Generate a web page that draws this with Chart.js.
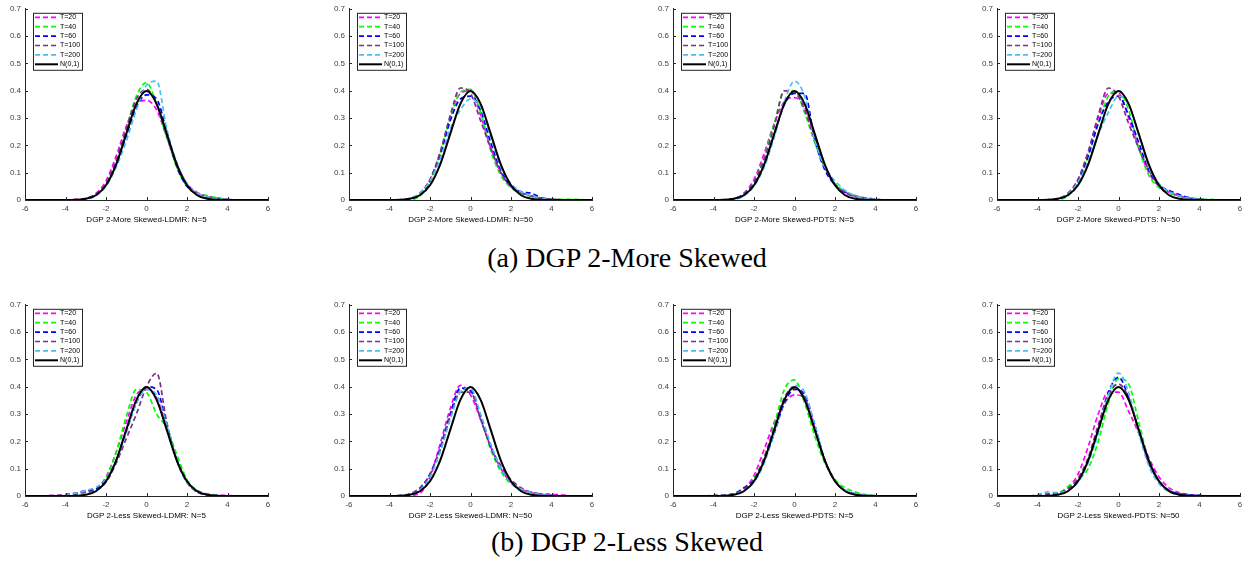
<!DOCTYPE html>
<html>
<head>
<meta charset="utf-8">
<script src="https://cdn.jsdelivr.net/npm/chart.js@4.4.0/dist/chart.umd.min.js"></script>
<style>
body{margin:0;width:1249px;height:569px;background:#fff;position:relative;overflow:hidden}
canvas{position:absolute}
.cap{position:absolute;width:600px;text-align:center;font-family:"Liberation Serif",serif;font-size:28px;color:#000;line-height:30px}
</style>
</head>
<body>
<div class="cap" id="capA" style="left:327px;top:243px"></div>
<div class="cap" id="capB" style="left:327px;top:527px"></div>
<script>
// grid of x values shared by every curve
var xs = [-6, -4.5, -4, -3.5, -3, -2.5, -2, -1.5, -1, -0.5, 0, 0.5, 1, 1.5, 2, 2.5, 3, 3.5, 4, 4.5, 5, 6];
var normal = [0, 0, 0.0001, 0.0009, 0.0044, 0.0175, 0.054, 0.1295, 0.242, 0.352, 0.399, 0.352, 0.242, 0.1295, 0.054, 0.0175, 0.0044, 0.0009, 0.0001, 0, 0, 0];

var seriesNames = ['T=20', 'T=40', 'T=60', 'T=100', 'T=200'];
var seriesColors = ['#ff00ff', '#00ff00', '#0000ff', '#7e2f8e', '#4dbeee'];

var captions = ['(a) DGP 2-More Skewed', '(b) DGP 2-Less Skewed'];
var panelTitles = [
    'DGP 2-More Skewed-LDMR: N=5', 'DGP 2-More Skewed-LDMR: N=50',
    'DGP 2-More Skewed-PDTS: N=5', 'DGP 2-More Skewed-PDTS: N=50',
    'DGP 2-Less Skewed-LDMR: N=5', 'DGP 2-Less Skewed-LDMR: N=50',
    'DGP 2-Less Skewed-PDTS: N=5', 'DGP 2-Less Skewed-PDTS: N=50'
];
var xTicks = [-6, -4, -2, 0, 2, 4, 6];
var yTicks = [0, 0.1, 0.2, 0.3, 0.4, 0.5, 0.6, 0.7];

// one row per T (20,40,60,100,200)
var moreLdmr5 = [
    [0,0,0,0.002,0.006,0.024,0.07,0.16,0.27,0.35,0.365,0.33,0.23,0.13,0.06,0.028,0.014,0.007,0.002,0,0,0],
    [0,0,0,0.001,0.004,0.02,0.06,0.14,0.26,0.38,0.43,0.35,0.23,0.12,0.05,0.025,0.016,0.008,0.002,0,0,0],
    [0,0,0,0,0.003,0.02,0.055,0.13,0.235,0.34,0.385,0.37,0.25,0.12,0.05,0.022,0.01,0.004,0.001,0,0,0],
    [0,0,0,0.001,0.004,0.02,0.06,0.145,0.26,0.37,0.405,0.35,0.235,0.125,0.055,0.024,0.012,0.006,0.002,0,0,0],
    [0,0,0,0,0.003,0.015,0.05,0.12,0.215,0.33,0.42,0.435,0.26,0.135,0.06,0.025,0.012,0.005,0.001,0,0,0]
];
var moreLdmr50 = [
    [0,0,0,0,0.003,0.02,0.075,0.17,0.3,0.39,0.4,0.31,0.19,0.1,0.05,0.028,0.015,0.007,0.003,0.001,0,0],
    [0,0,0,0,0.001,0.015,0.07,0.17,0.3,0.395,0.405,0.32,0.18,0.09,0.045,0.025,0.014,0.007,0.004,0.002,0.002,0],
    [0,0,0,0.001,0.005,0.02,0.07,0.165,0.29,0.37,0.38,0.33,0.21,0.11,0.05,0.03,0.025,0.008,0.002,0,0,0],
    [0,0,0,0.001,0.005,0.025,0.075,0.175,0.31,0.41,0.39,0.29,0.19,0.1,0.05,0.027,0.014,0.006,0.002,0,0,0],
    [0,0,0,0.001,0.006,0.025,0.07,0.15,0.26,0.33,0.37,0.34,0.23,0.12,0.06,0.03,0.015,0.006,0.002,0,0,0]
];
var morePdts5 = [
    [0,0,0,0.001,0.005,0.025,0.075,0.17,0.28,0.36,0.375,0.34,0.23,0.12,0.06,0.03,0.015,0.008,0.003,0,0,0],
    [0,0,0,0.001,0.004,0.02,0.065,0.155,0.28,0.4,0.4,0.32,0.21,0.12,0.06,0.03,0.017,0.007,0.002,0,0,0],
    [0,0,0,0,0.003,0.02,0.06,0.13,0.24,0.35,0.39,0.39,0.22,0.11,0.055,0.028,0.013,0.005,0.001,0,0,0],
    [0,0,0,0.001,0.004,0.02,0.065,0.15,0.27,0.4,0.395,0.33,0.22,0.12,0.055,0.026,0.013,0.006,0.002,0,0,0],
    [0,0,0,0,0.002,0.015,0.05,0.12,0.23,0.36,0.435,0.38,0.22,0.12,0.07,0.035,0.015,0.006,0.002,0,0,0]
];
var morePdts50 = [
    [0,0,0,0.001,0.004,0.022,0.075,0.175,0.3,0.39,0.39,0.3,0.19,0.1,0.05,0.028,0.015,0.007,0.003,0.001,0,0],
    [0,0,0,0,0.002,0.015,0.065,0.16,0.28,0.38,0.4,0.33,0.19,0.09,0.045,0.025,0.014,0.008,0.004,0.002,0.001,0],
    [0,0,0,0.001,0.004,0.02,0.07,0.16,0.28,0.36,0.38,0.31,0.21,0.11,0.055,0.035,0.02,0.008,0.002,0,0,0],
    [0,0,0,0.001,0.005,0.025,0.075,0.175,0.31,0.41,0.38,0.28,0.19,0.11,0.055,0.03,0.015,0.006,0.002,0,0,0],
    [0,0,0,0.001,0.005,0.022,0.065,0.14,0.24,0.32,0.38,0.35,0.24,0.12,0.06,0.03,0.015,0.006,0.002,0,0,0]
];
var lessLdmr5 = [
    [0,0.002,0.005,0.01,0.015,0.025,0.07,0.16,0.27,0.37,0.39,0.36,0.25,0.13,0.055,0.02,0.008,0.004,0.002,0,0,0],
    [0,0,0.002,0.006,0.012,0.025,0.065,0.16,0.29,0.39,0.38,0.3,0.25,0.15,0.06,0.02,0.006,0.002,0,0,0,0],
    [0,0,0.002,0.008,0.02,0.025,0.06,0.13,0.24,0.34,0.4,0.39,0.26,0.13,0.05,0.015,0.004,0.001,0,0,0,0],
    [0,0.002,0.005,0.01,0.015,0.02,0.05,0.12,0.21,0.3,0.4,0.45,0.27,0.13,0.05,0.015,0.004,0.001,0,0,0,0],
    [0,0,0.002,0.01,0.02,0.032,0.06,0.13,0.23,0.34,0.39,0.37,0.26,0.13,0.05,0.016,0.005,0.001,0,0,0,0]
];
var lessLdmr50 = [
    [0,0,0,0,0.002,0.01,0.07,0.19,0.32,0.405,0.37,0.28,0.18,0.1,0.05,0.025,0.012,0.008,0.006,0.004,0,0],
    [0,0,0,0.001,0.006,0.025,0.08,0.17,0.3,0.39,0.39,0.29,0.17,0.09,0.045,0.025,0.012,0.004,0.001,0,0,0],
    [0,0,0,0.001,0.006,0.025,0.08,0.175,0.3,0.395,0.385,0.29,0.18,0.1,0.05,0.025,0.015,0.006,0.002,0,0,0],
    [0,0,0,0.002,0.008,0.03,0.08,0.17,0.29,0.38,0.38,0.28,0.18,0.11,0.06,0.03,0.013,0.005,0.002,0,0,0],
    [0,0,0,0.001,0.005,0.022,0.07,0.16,0.28,0.38,0.395,0.3,0.19,0.1,0.05,0.026,0.013,0.005,0.002,0,0,0]
];
var lessPdts5 = [
    [0,0,0.002,0.004,0.008,0.025,0.075,0.17,0.27,0.34,0.37,0.36,0.25,0.13,0.055,0.02,0.008,0.003,0.001,0,0,0],
    [0,0,0.001,0.003,0.008,0.025,0.065,0.14,0.26,0.39,0.425,0.34,0.22,0.12,0.06,0.03,0.015,0.005,0.001,0,0,0],
    [0,0,0,0.002,0.008,0.03,0.06,0.13,0.23,0.34,0.39,0.37,0.26,0.13,0.055,0.02,0.007,0.002,0,0,0,0],
    [0,0,0.001,0.003,0.008,0.025,0.06,0.14,0.25,0.36,0.395,0.36,0.25,0.13,0.055,0.02,0.008,0.003,0.001,0,0,0],
    [0,0,0,0.002,0.006,0.02,0.05,0.12,0.23,0.35,0.405,0.38,0.26,0.13,0.055,0.022,0.01,0.003,0.001,0,0,0]
];
var lessPdts50 = [
    [0,0,0.002,0.006,0.012,0.03,0.08,0.18,0.3,0.38,0.38,0.31,0.23,0.14,0.07,0.03,0.012,0.005,0.002,0,0,0],
    [0,0,0,0.002,0.008,0.035,0.06,0.1,0.2,0.34,0.43,0.41,0.27,0.13,0.055,0.02,0.008,0.003,0.001,0,0,0],
    [0,0,0.002,0.006,0.01,0.025,0.06,0.13,0.25,0.38,0.435,0.36,0.24,0.12,0.055,0.02,0.008,0.004,0.002,0,0,0],
    [0,0,0.003,0.006,0.01,0.025,0.065,0.14,0.26,0.37,0.41,0.36,0.24,0.12,0.055,0.02,0.008,0.003,0.001,0,0,0],
    [0,0,0.005,0.015,0.012,0.02,0.05,0.12,0.23,0.37,0.45,0.38,0.23,0.11,0.045,0.015,0.005,0.002,0,0,0,0]
];

var panels = [moreLdmr5, moreLdmr50, morePdts5, morePdts50, lessLdmr5, lessLdmr50, lessPdts5, lessPdts50];

document.getElementById('capA').textContent = captions[0];
document.getElementById('capB').textContent = captions[1];

// MATLAB style ticks pointing into the axes
var innerTicks = {
    id: 'innerTicks',
    afterDraw: function(chart) {
        var ctx = chart.ctx;
        var a = chart.chartArea;
        var sx = chart.scales.x, sy = chart.scales.y;
        ctx.save();
        ctx.strokeStyle = '#262626';
        ctx.lineWidth = 1;
        ctx.beginPath();
        xTicks.forEach(function(v) {
            var p = Math.round(sx.getPixelForValue(v)) + 0.5;
            ctx.moveTo(p, a.bottom);
            ctx.lineTo(p, a.bottom - 3);
        });
        yTicks.forEach(function(v) {
            var p = Math.round(sy.getPixelForValue(v)) + 0.5;
            ctx.moveTo(a.left, p);
            ctx.lineTo(a.left + 3, p);
        });
        ctx.stroke();
        ctx.restore();
    }
};

// legend box inside the top-left corner of the axes
var boxLegend = {
    id: 'boxLegend',
    afterDraw: function(chart) {
        var ctx = chart.ctx;
        var a = chart.chartArea;
        var ds = chart.data.datasets;
        var bx = a.left + 8, by = a.top + 4, bw = 49, bh = 57;
        ctx.save();
        ctx.fillStyle = '#fff';
        ctx.fillRect(bx, by, bw, bh);
        ctx.strokeStyle = '#262626';
        ctx.lineWidth = 1;
        ctx.strokeRect(bx + 0.5, by + 0.5, bw, bh);
        ctx.font = '7px "Liberation Sans", Arial, sans-serif';
        ctx.textBaseline = 'middle';
        for (var i = 0; i < ds.length; i++) {
            var yy = by + 4.5 + i * 9.4;
            ctx.beginPath();
            ctx.strokeStyle = ds[i].borderColor;
            ctx.lineWidth = ds[i].borderWidth;
            ctx.setLineDash(ds[i].borderDash || []);
            ctx.moveTo(bx + 2, yy);
            ctx.lineTo(bx + 25, yy);
            ctx.stroke();
            ctx.setLineDash([]);
            ctx.fillStyle = '#000';
            ctx.fillText(ds[i].label, bx + 27, yy);
        }
        ctx.restore();
    }
};

function pairs(ys) {
    var out = [];
    for (var i = 0; i < xs.length; i++) out.push({ x: xs[i], y: ys[i] });
    return out;
}

function dibujarPanel(idx) {
    var col = idx % 4, row = Math.floor(idx / 4);
    var plotLeft = 25 + 324 * col;
    var plotTop = row === 0 ? 8 : 304;
    var cv = document.createElement('canvas');
    cv.width = 281;
    cv.height = 226;
    cv.style.left = (plotLeft - 30) + 'px';
    cv.style.top = (plotTop - 8) + 'px';
    cv.style.width = '281px';
    cv.style.height = '226px';
    document.body.appendChild(cv);

    var datasets = [];
    for (var s = 0; s < seriesNames.length; s++) {
        datasets.push({
            label: seriesNames[s],
            data: pairs(panels[idx][s]),
            borderColor: seriesColors[s],
            borderWidth: 1.7,
            borderDash: [5, 3],
            order: 6 - s
        });
    }
    datasets.push({
        label: 'N(0,1)',
        data: pairs(normal),
        borderColor: '#000',
        borderWidth: 2,
        order: 0
    });

    new Chart(cv, {
        type: 'line',
        data: { datasets: datasets },
        plugins: [innerTicks, boxLegend],
        options: {
            responsive: false,
            animation: false,
            layout: { padding: { top: 8, right: 8, left: 0, bottom: 0 } },
            elements: {
                point: { radius: 0 },
                line: { cubicInterpolationMode: 'monotone', fill: false }
            },
            plugins: { legend: { display: false }, tooltip: { enabled: false } },
            scales: {
                x: {
                    type: 'linear',
                    min: -6, max: 6,
                    afterFit: function(sc) { sc.height = 26; },
                    afterBuildTicks: function(sc) { sc.ticks = xTicks.map(function(v) { return { value: v }; }); },
                    grid: { drawOnChartArea: false, drawTicks: false },
                    border: { color: '#262626', width: 1 },
                    ticks: { padding: 4, color: '#404040', font: { size: 8, family: '"Liberation Sans", Arial, sans-serif' } },
                    title: { display: true, text: panelTitles[idx], color: '#000', padding: { top: 0, bottom: 1 },
                             font: { size: 8, family: '"Liberation Sans", Arial, sans-serif' } }
                },
                y: {
                    min: 0, max: 0.7,
                    afterFit: function(sc) { sc.width = 30; },
                    afterBuildTicks: function(sc) { sc.ticks = yTicks.map(function(v) { return { value: v }; }); },
                    grid: { drawOnChartArea: false, drawTicks: false },
                    border: { color: '#262626', width: 1 },
                    ticks: { padding: 4, color: '#404040', font: { size: 8, family: '"Liberation Sans", Arial, sans-serif' },
                             callback: function(v) { return v === 0 ? '0' : v.toFixed(1); } }
                }
            }
        }
    });
}

for (var k = 0; k < panels.length; k++) dibujarPanel(k);
</script>
</body>
</html>
